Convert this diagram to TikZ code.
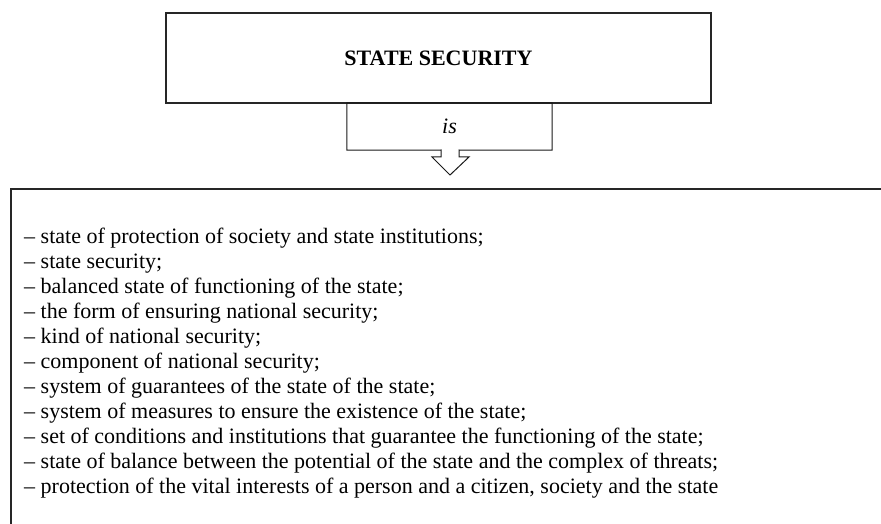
\documentclass[tikz,border=0pt]{standalone}
\usepackage{fontspec}
\setmainfont{Liberation Serif}
\usetikzlibrary{positioning}

\tikzset{
  frame/.style={draw=black!85, line width=1.6pt},
  callout/.style={draw=black!90, line width=1pt},
  txt/.style={font=\fontsize{22}{25}\selectfont, inner sep=0pt}
}

\begin{document}
\begin{tikzpicture}[x=1pt, y=-1pt]

        \useasboundingbox (0,0) rectangle (881,524);
        \clip (0,0) rectangle (881,524);

        % Title box
        \node[frame, minimum width=545pt, minimum height=90pt, txt,
              font=\fontsize{22}{25}\selectfont\bfseries] (state) at (438.5,58) {STATE SECURITY};

        % Callout
        \node[txt, font=\fontsize{22}{25}\selectfont\itshape,
              minimum width=205pt, minimum height=47pt] (is) at (449.5,126.5) {is};
        \coordinate (tip) at (450,175);
        \draw[callout] (is.south west) -- (is.north west) -- (is.north east) -- (is.south east)
              -- (459,150) -- (459,157) -- (469,157) -- (tip)
              -- (432,157) -- (441,157) -- (441,150) -- cycle;

        % Definitions box
        \draw[frame] (11,900) -- (11,189) -- (900,189);
        \node[txt, align=left, anchor=north west] (list) at (24,228) {%
          -- state of protection of society and state institutions;\\
          -- state security;\\
          -- balanced state of functioning of the state;\\
          -- the form of ensuring national security;\\
          -- kind of national security;\\
          -- component of national security;\\
          -- system of guarantees of the state of the state;\\
          -- system of measures to ensure the existence of the state;\\
          -- set of conditions and institutions that guarantee the functioning of the state;\\
          -- state of balance between the potential of the state and the complex of threats;\\
          -- protection of the vital interests of a person and a citizen, society and the state};

\end{tikzpicture}
\end{document}
